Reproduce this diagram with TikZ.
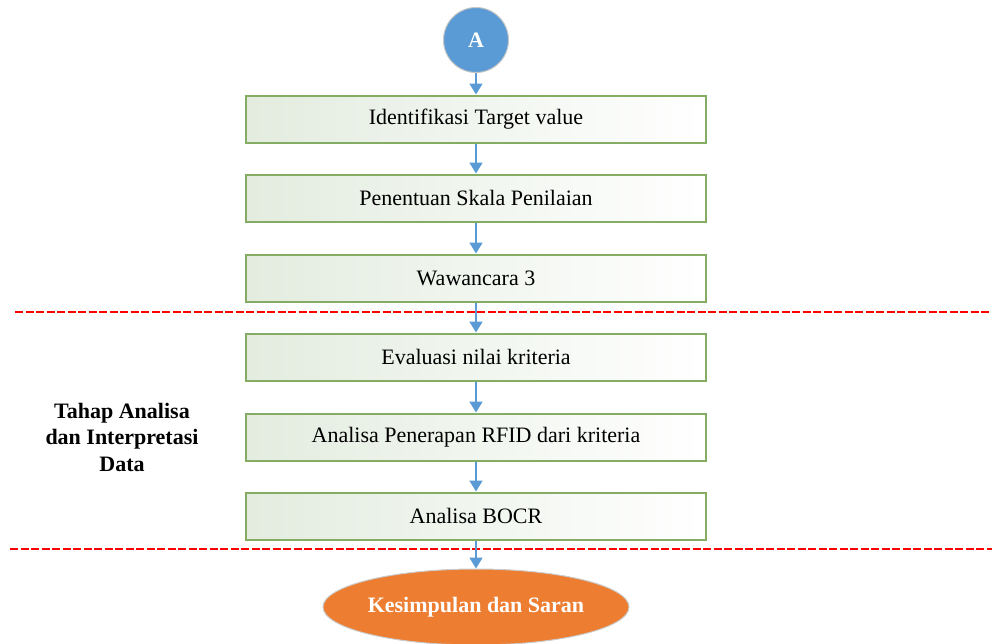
\documentclass[tikz,border=0pt]{standalone}
\usepackage{fontspec}
\setmainfont{Liberation Serif}
\usetikzlibrary{arrows.meta,shapes.geometric}
\definecolor{flowblue}{HTML}{5B9BD5}
\definecolor{boxedge}{HTML}{84AD63}
\definecolor{boxtint}{HTML}{E3ECDF}
\definecolor{endorange}{HTML}{ED7D31}
\definecolor{cutred}{HTML}{FF0000}
\begin{document}
\begin{tikzpicture}[x=1pt,y=-1pt,
  stepbox/.style={draw=boxedge,line width=2pt,minimum width=460pt,minimum height=47pt,
    left color=boxtint,right color=white,font=\fontsize{22}{26}\selectfont,inner sep=0pt},
  flow/.style={draw=flowblue,line width=1.8pt,-{Triangle[length=11pt,width=13pt]}},
  cutline/.style={draw=cutred,line width=2pt,dash pattern=on 8pt off 2.5pt}]
\useasboundingbox (0,0) rectangle (992,643);
% start connector
\node[circle,fill=flowblue,draw=gray!45,line width=1pt,minimum size=65pt,inner sep=0pt,
  text=white,font=\bfseries\fontsize{22}{26}\selectfont] (start) at (476,40) {A};
% process steps
\node[stepbox] (s1) at (476,119) {Identifikasi Target value};
\node[stepbox] (s2) at (476,198) {Penentuan Skala Penilaian};
\node[stepbox] (s3) at (476,278) {Wawancara 3};
\node[stepbox] (s4) at (476,357) {Evaluasi nilai kriteria};
\node[stepbox] (s5) at (476,437) {Analisa Penerapan RFID dari kriteria};
\node[stepbox] (s6) at (476,516) {Analisa BOCR};
% end terminal
\node[ellipse,fill=endorange,draw=gray!40,line width=1pt,minimum width=306pt,minimum height=76pt,
  inner sep=0pt,text=white,font=\bfseries\fontsize{22}{26}\selectfont] (end) at (476,607) {Kesimpulan dan Saran};
% phase boundaries
\coordinate (c1l) at (15,312);
\coordinate (c1r) at (992,312);
\coordinate (c2l) at (10,549);
\coordinate (c2r) at (992,549);
\path[cutline] (c1l) -- (c1r);
\path[cutline] (c2l) -- (c2r);
% phase label
\node[align=center,font=\bfseries\fontsize{22}{26.5}\selectfont] (phase) at (122,437)
  {Tahap Analisa\\dan Interpretasi\\Data};
% connectors
\path[flow] (start) -- (s1);
\path[flow] (s1) -- (s2);
\path[flow] (s2) -- (s3);
\path[flow] (s3) -- (s4);
\path[flow] (s4) -- (s5);
\path[flow] (s5) -- (s6);
\path[flow] (s6) -- (end);
\end{tikzpicture}
\end{document}
